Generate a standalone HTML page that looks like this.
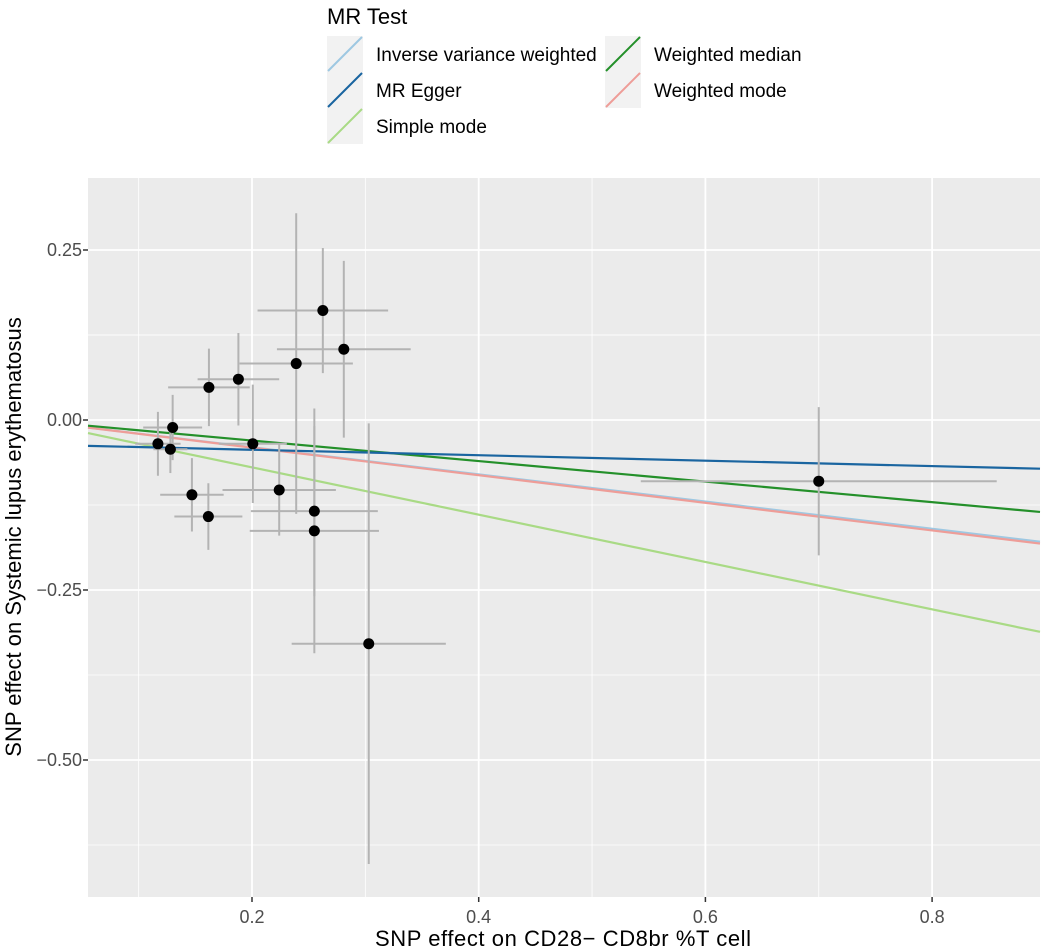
<!DOCTYPE html>
<html><head><meta charset="utf-8"><style>
body{margin:0;background:#fff}
svg{display:block;font-family:"Liberation Sans",Arial,sans-serif}
</style></head><body>
<svg id="chart" width="1043" height="950" viewBox="0 0 1043 950">
<g id="legend"></g>
<rect x="88" y="178" width="952" height="719" fill="#ebebeb"/>
<g id="grid"></g><g id="lines"></g><g id="errs"></g><g id="pts"></g><g id="axes"></g>
<text x="563" y="946" font-size="22" text-anchor="middle" fill="#000" textLength="376">SNP effect on CD28− CD8br %T cell</text>
<text transform="translate(21,537) rotate(-90)" font-size="22" text-anchor="middle" fill="#000">SNP effect on Systemic lupus erythematosus</text>
</svg>
<script>
const snpX=[0.2625,0.281,0.239,0.188,0.162,0.130,0.117,0.128,0.2007,0.224,0.147,0.1615,0.255,0.255,0.303,0.700];
const snpY=[0.161,0.104,0.083,0.060,0.048,-0.011,-0.035,-0.043,-0.035,-0.103,-0.110,-0.142,-0.134,-0.163,-0.329,-0.090];
const seX=[0.0576,0.059,0.05,0.036,0.036,0.026,0.02,0.015,0.03,0.05,0.028,0.03,0.056,0.057,0.068,0.157];
const seY=[0.092,0.13,0.221,0.068,0.057,0.048,0.047,0.035,0.087,0.067,0.054,0.049,0.125,0.18,0.324,0.109];
const methods=["Inverse variance weighted","MR Egger","Simple mode","Weighted median","Weighted mode"];
const slopes=[-0.2,-0.040,-0.348,-0.151,-0.203];
const intercepts=[0,-0.0358,0,0,0];
const colors=["#9ec8e2","#1a65a0","#a9da85","#24902a","#ee9d98"];
const xTicks=[0.2,0.4,0.6,0.8];
const yTicks=[0.25,0,-0.25,-0.5];
const yTickLabels=["0.25","0.00","−0.25","−0.50"];
const X0=88,X1=1040,Y0=178,Y1=897;
const sx=v=>25.3+v*1133.5, sy=v=>420-v*680;
const xmin=(X0-25.3)/1133.5, xmax=(X1-25.3)/1133.5;
const NS="http://www.w3.org/2000/svg";
function mk(p,t,a){const e=document.createElementNS(NS,t);for(const k in a)e.setAttribute(k,a[k]);document.getElementById(p).appendChild(e);return e;}
for(let i=0;i<xTicks.length;i++){const v=xTicks[i];
 const m=mk('grid','line',{x1:sx(v-0.1),x2:sx(v-0.1),y1:Y0,y2:Y1,stroke:'#fff','stroke-width':0.8});
 
 const g=mk('grid','line',{x1:sx(v),x2:sx(v),y1:Y0,y2:Y1,stroke:'#fff','stroke-width':1.8});
 
 const t=mk('axes','line',{x1:sx(v),x2:sx(v),y1:Y1,y2:Y1+5,stroke:'#333','stroke-width':1.5});
 
 const l=mk('axes','text',{x:sx(v),y:923,'font-size':18,'text-anchor':'middle',fill:'#4d4d4d'});l.textContent=String(v);
 }
{const m=mk('grid','line',{x1:sx(0.9),x2:sx(0.9),y1:Y0,y2:Y1,stroke:'#fff','stroke-width':0.8});}
for(let i=0;i<yTicks.length;i++){const v=yTicks[i];
 const g=mk('grid','line',{x1:X0,x2:X1,y1:sy(v),y2:sy(v),stroke:'#fff','stroke-width':1.8});
 
 const m=mk('grid','line',{x1:X0,x2:X1,y1:sy(v-0.125),y2:sy(v-0.125),stroke:'#fff','stroke-width':0.8});
 
 const t=mk('axes','line',{x1:X0-5,x2:X0,y1:sy(v),y2:sy(v),stroke:'#333','stroke-width':1.5});
 
 const l=mk('axes','text',{x:X0-6,y:sy(v)+6,'font-size':18,'text-anchor':'end',fill:'#4d4d4d'});l.textContent=yTickLabels[i];
 }
{const m=mk('grid','line',{x1:X0,x2:X1,y1:sy(0.125),y2:sy(0.125),stroke:'#fff','stroke-width':0.8});}
for(let i=0;i<snpX.length;i++){
 const v=mk('errs','line',{x1:sx(snpX[i]),x2:sx(snpX[i]),y1:sy(snpY[i]-seY[i]),y2:sy(snpY[i]+seY[i]),stroke:'#b3b3b3','stroke-width':2});
 
 const h=mk('errs','line',{x1:sx(snpX[i]-seX[i]),x2:sx(snpX[i]+seX[i]),y1:sy(snpY[i]),y2:sy(snpY[i]),stroke:'#b3b3b3','stroke-width':2});
 
 const c=mk('pts','circle',{cx:sx(snpX[i]),cy:sy(snpY[i]),r:5.5,fill:'#000'});
 }
const order=[2,0,4,3,1];
for(const i of order){
 const l=mk('lines','line',{x1:X0,x2:X1,y1:sy(intercepts[i]+slopes[i]*xmin),y2:sy(intercepts[i]+slopes[i]*xmax),stroke:colors[i],'stroke-width':2.2});
 }
document.getElementById('lines').parentNode.appendChild(document.getElementById('pts'));
{const t=mk('legend','text',{x:327,y:24,'font-size':22,fill:'#000'});t.textContent='MR Test';
 }
for(let i=0;i<methods.length;i++){
 const col=i<3?0:1,row=i<3?i:i-3;
 const kx=col?605:327,ky=36+row*36;
 const r=mk('legend','rect',{x:kx,y:ky,width:36,height:36,fill:'#f2f2f2'});
 
 const l=mk('legend','line',{x1:kx+1,y1:ky+35,x2:kx+35,y2:ky+1,stroke:colors[i],'stroke-width':2});
 
 const t=mk('legend','text',{x:kx+49,y:ky+25,'font-size':19,fill:'#000'});t.textContent=methods[i];
 }
</script>
</body></html>
